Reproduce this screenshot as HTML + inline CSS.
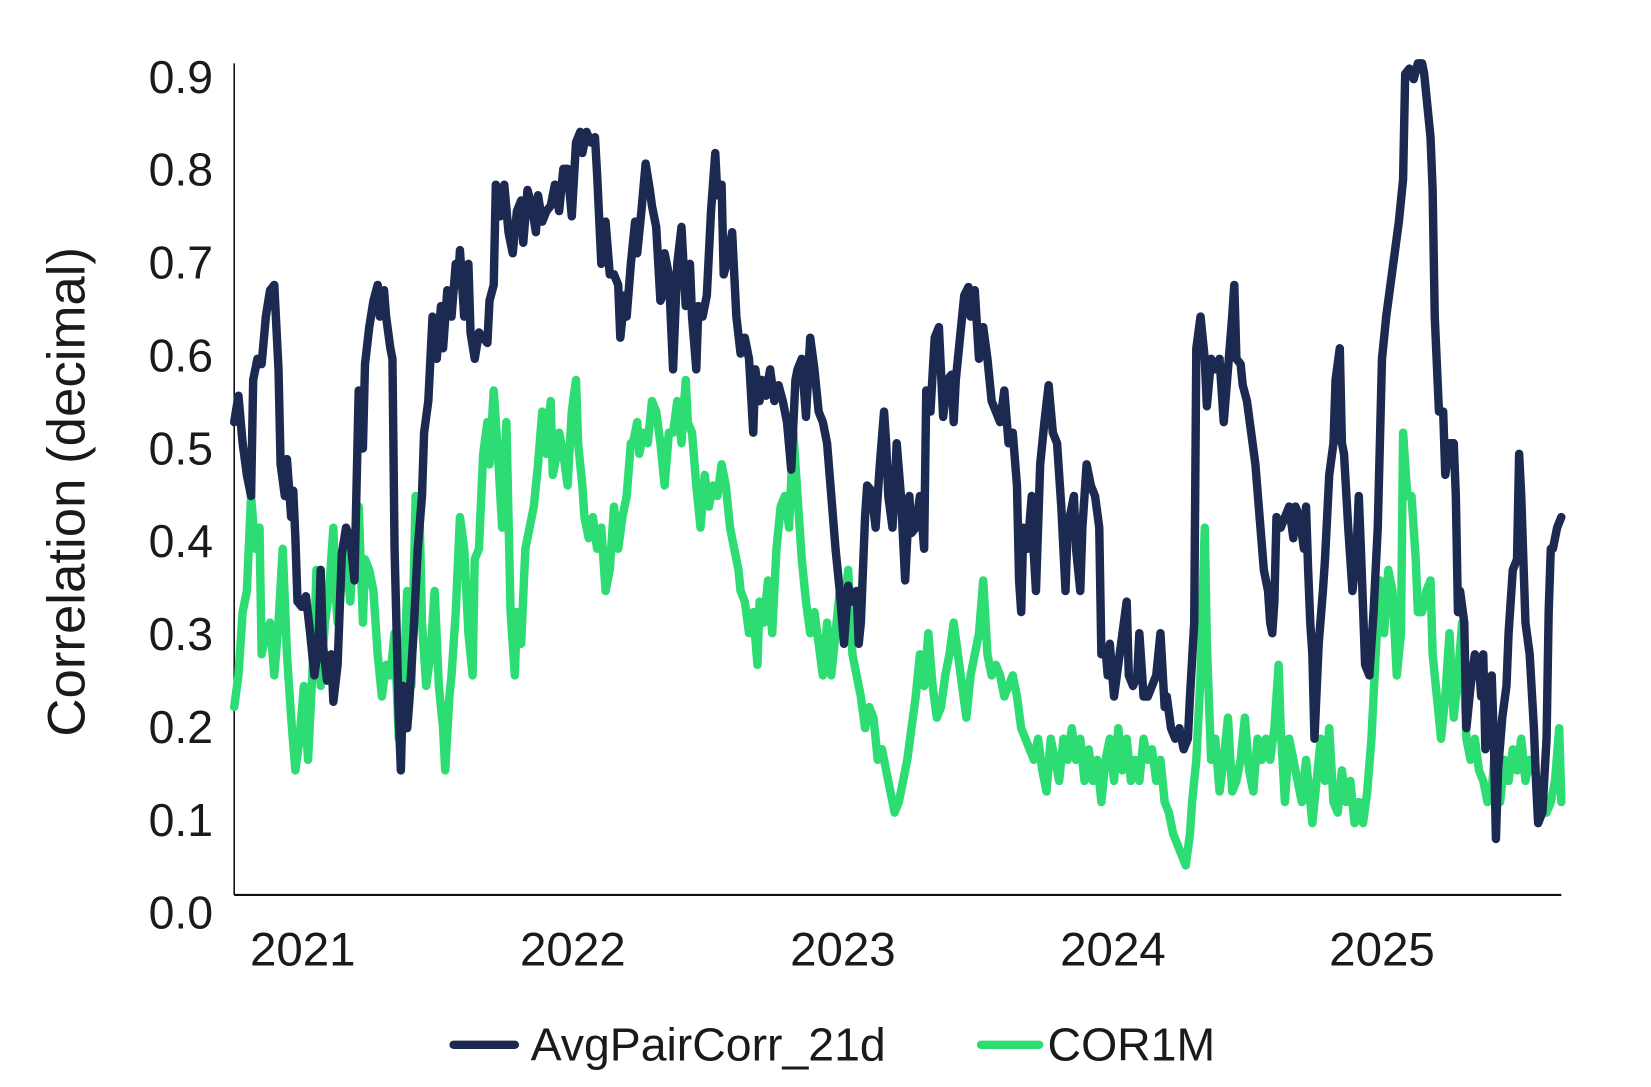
<!DOCTYPE html>
<html><head><meta charset="utf-8"><style>
html,body{margin:0;padding:0;background:#fff;}
svg{display:block;}
text{font-family:"Liberation Sans",sans-serif;fill:#1a1a1a;}
</style></head><body>
<svg width="1651" height="1087" viewBox="0 0 1565 1030" preserveAspectRatio="none">
<line x1="222" y1="60" x2="222" y2="848" stroke="#111" stroke-width="1.5"/>
<line x1="222" y1="848" x2="1480" y2="848" stroke="#111" stroke-width="2"/>
<g font-size="44" text-anchor="end">
<text x="202" y="88">0.9</text><text x="202" y="176">0.8</text><text x="202" y="264">0.7</text>
<text x="202" y="352">0.6</text><text x="202" y="440">0.5</text><text x="202" y="528">0.4</text>
<text x="202" y="616">0.3</text><text x="202" y="704">0.2</text><text x="202" y="792">0.1</text>
<text x="202" y="880">0.0</text>
</g>
<g font-size="45" text-anchor="middle">
<text x="287" y="915">2021</text><text x="543" y="915">2022</text><text x="799" y="915">2023</text>
<text x="1055" y="915">2024</text><text x="1310" y="915">2025</text>
</g>
<text transform="translate(80,466) rotate(-90)" font-size="50" text-anchor="middle">Correlation (decimal)</text>
<polyline fill="none" stroke="#2ddc72" stroke-width="8" stroke-linejoin="round" stroke-linecap="round" points="222,670 226,640 230,580 234,560 238,470 242,520 246,500 248,620 252,600 256,590 260,640 264,590 268,520 272,620 276,680 280,730 284,700 288,650 292,720 294,680 298,600 300,540 304,650 308,590 312,560 316,500 318,560 320,590 324,550 328,520 332,570 336,510 340,480 344,590 346,530 350,540 354,560 358,620 362,660 366,630 370,640 374,600 378,700 382,660 386,560 390,650 394,470 398,500 400,590 404,650 408,620 412,560 416,650 420,690 422,730 426,660 428,640 432,580 436,490 440,520 444,600 448,640 450,530 454,520 458,430 462,400 464,440 468,370 472,430 476,500 480,400 484,580 488,640 490,580 494,610 498,520 502,500 506,480 510,440 514,390 518,430 522,380 524,450 528,430 530,410 534,430 538,460 542,390 546,360 548,420 552,460 554,490 558,510 562,490 566,520 570,500 574,560 578,540 582,480 586,520 590,490 594,470 598,420 600,420 604,400 606,430 610,410 614,420 618,380 622,390 626,420 630,460 634,410 638,410 642,380 646,420 650,360 652,400 656,410 660,460 664,500 668,450 672,480 676,460 680,470 684,440 688,460 692,500 696,520 700,540 702,560 706,570 710,600 714,580 718,630 720,570 724,590 728,550 732,600 736,520 740,480 744,470 748,500 752,410 756,470 760,530 764,570 768,600 772,580 776,610 780,640 784,590 788,640 792,600 796,560 800,580 804,540 808,620 812,640 816,660 820,690 824,670 828,680 832,720 836,710 840,730 844,750 848,770 852,760 856,740 860,720 864,690 868,660 872,620 876,650 880,600 884,650 888,680 892,670 896,640 900,620 904,590 908,620 912,650 916,680 920,640 924,620 928,600 932,550 936,620 940,640 944,630 948,640 952,660 956,650 960,640 964,660 968,690 972,700 976,710 980,720 984,700 988,730 992,750 996,700 1000,720 1004,740 1008,700 1012,720 1016,690 1020,720 1024,700 1028,740 1032,710 1036,740 1040,720 1044,760 1048,720 1052,700 1056,740 1060,690 1064,730 1068,700 1072,740 1076,720 1080,740 1084,700 1088,720 1092,710 1096,740 1100,720 1104,760 1108,770 1112,790 1116,800 1120,810 1124,820 1128,790 1130,760 1134,720 1138,640 1142,500 1144,610 1148,720 1152,700 1156,750 1160,720 1164,680 1168,750 1172,740 1176,720 1180,680 1184,730 1188,750 1192,700 1196,720 1200,700 1204,720 1208,690 1212,630 1214,690 1218,760 1222,700 1226,720 1230,740 1234,760 1238,720 1242,760 1244,780 1248,740 1252,700 1256,740 1260,690 1264,760 1268,770 1272,730 1276,760 1280,740 1284,780 1288,760 1292,780 1296,750 1300,700 1304,620 1308,550 1312,600 1316,540 1320,560 1324,640 1328,600 1330,410 1334,470 1338,470 1342,530 1344,580 1348,580 1352,560 1356,550 1358,620 1362,660 1366,700 1370,660 1374,600 1378,680 1382,640 1386,590 1390,700 1394,720 1398,700 1402,730 1406,740 1410,760 1414,750 1418,700 1422,760 1426,720 1430,740 1434,710 1438,730 1442,700 1446,740 1450,720 1454,730 1458,740 1462,750 1466,770 1470,760 1474,740 1478,690 1480,760"/>
<polyline fill="none" stroke="#1c2951" stroke-width="8" stroke-linejoin="round" stroke-linecap="round" points="222,400 226,375 230,420 234,450 238,470 240,360 244,340 248,345 252,300 256,275 260,270 262,310 264,350 266,440 268,455 270,470 272,435 276,490 278,465 280,510 282,570 286,575 290,565 294,600 298,640 302,610 304,540 306,610 310,645 314,620 316,665 320,630 324,525 328,500 332,510 336,550 340,370 344,425 346,345 350,310 354,285 358,270 360,300 364,275 366,300 370,330 372,340 374,520 378,680 380,730 382,650 386,690 388,665 392,600 396,520 400,470 402,410 406,380 410,300 414,340 418,290 420,330 424,275 428,300 432,250 434,270 436,237 440,300 444,250 446,315 450,340 454,315 458,320 462,325 464,285 468,270 470,175 474,205 478,175 482,220 486,240 490,200 494,190 496,230 500,180 504,195 508,220 510,185 514,210 518,200 522,195 526,175 530,200 534,160 538,160 542,205 546,135 550,125 552,145 556,125 560,135 564,130 566,165 570,250 574,210 578,260 582,260 586,270 588,320 592,280 594,300 598,250 602,210 604,240 608,200 612,155 616,180 618,195 622,215 626,285 628,280 630,240 634,260 638,350 642,250 646,215 650,290 654,250 656,300 660,350 662,290 666,300 670,280 674,200 678,145 680,185 684,175 686,260 690,245 694,220 696,260 698,300 702,335 706,320 710,340 714,410 716,350 720,380 722,360 726,375 730,350 734,380 738,365 742,380 746,400 750,445 754,360 756,350 760,340 764,395 768,320 772,350 776,390 780,400 784,420 788,470 792,520 796,560 800,610 804,555 808,570 812,560 814,610 816,590 820,490 822,460 826,465 830,500 834,440 838,390 840,420 842,470 846,500 850,420 854,470 858,550 862,470 864,505 868,500 872,470 876,520 878,370 882,390 886,320 890,310 894,395 898,360 902,355 904,400 906,360 910,320 914,280 918,272 920,300 924,275 928,340 932,310 936,340 940,380 944,390 948,400 952,370 956,420 960,410 964,460 966,550 968,580 970,500 974,520 978,470 980,525 982,560 986,440 990,400 994,365 998,410 1002,420 1006,480 1010,560 1012,500 1016,480 1018,470 1020,520 1024,560 1026,500 1030,440 1034,460 1038,470 1042,500 1044,620 1048,615 1050,640 1052,610 1056,660 1060,630 1064,600 1068,570 1070,640 1074,650 1078,640 1080,600 1084,660 1088,660 1092,650 1096,640 1100,600 1104,670 1106,660 1110,690 1114,700 1118,690 1122,710 1126,700 1128,660 1132,590 1134,330 1138,300 1142,340 1144,385 1148,340 1152,350 1156,340 1160,400 1164,350 1168,300 1170,270 1172,340 1176,345 1178,365 1182,380 1186,410 1190,440 1194,490 1198,540 1202,560 1204,590 1206,600 1208,570 1210,490 1214,500 1218,490 1222,480 1226,510 1228,480 1232,490 1236,520 1238,480 1240,540 1242,590 1244,620 1246,700 1250,610 1254,560 1256,530 1260,450 1264,420 1266,360 1270,330 1272,420 1274,430 1278,500 1282,560 1286,520 1288,470 1290,520 1294,630 1298,640 1302,580 1306,500 1310,340 1314,300 1318,270 1322,240 1326,210 1330,170 1332,70 1336,65 1340,75 1344,60 1348,60 1350,70 1352,90 1356,130 1358,180 1360,300 1364,390 1368,390 1370,450 1374,420 1378,420 1380,470 1382,580 1384,560 1388,590 1390,690 1394,650 1398,620 1402,630 1404,660 1406,620 1408,710 1410,700 1414,640 1416,700 1418,795 1420,730 1424,680 1428,650 1430,600 1434,540 1438,530 1440,430 1442,470 1446,590 1450,620 1454,690 1456,740 1458,780 1462,770 1466,700 1468,580 1470,520 1472,520 1476,500 1480,490"/>
<line x1="430" y1="990" x2="488" y2="990" stroke="#1c2951" stroke-width="8" stroke-linecap="round"/>
<text x="503" y="1005" font-size="44">AvgPairCorr_21d</text>
<line x1="930" y1="990" x2="985" y2="990" stroke="#2ddc72" stroke-width="8" stroke-linecap="round"/>
<text x="993" y="1005" font-size="44">COR1M</text>
</svg>
</body></html>
